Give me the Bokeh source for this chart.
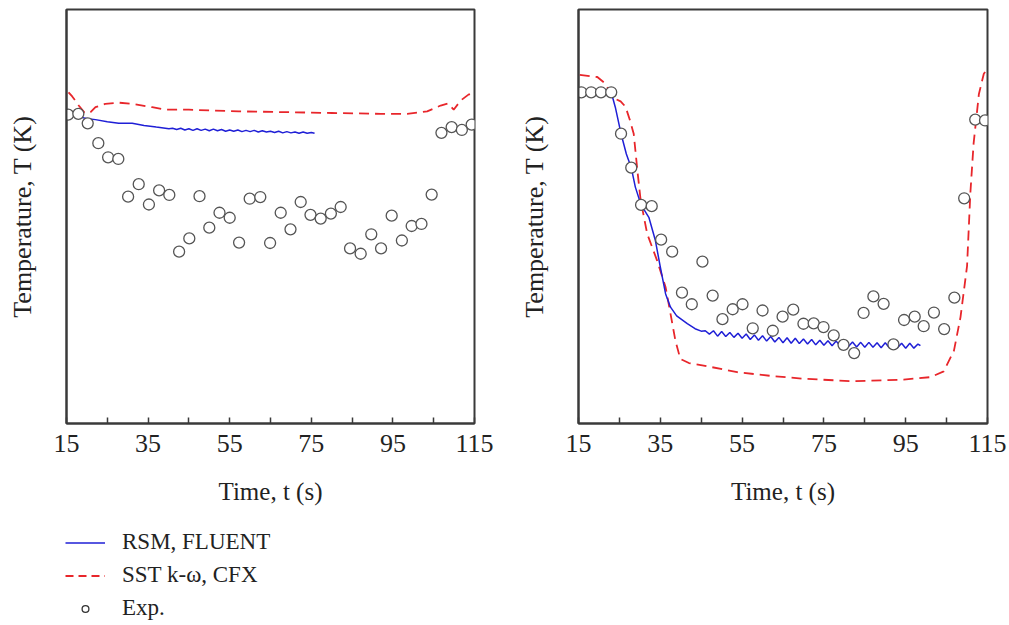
from bokeh.plotting import figure
from bokeh.models import Range1d, FixedTicker, Legend, LegendItem
from bokeh.layouts import row, column
from bokeh.embed import file_html
from bokeh.resources import INLINE

FONT = "Liberation Serif"
BLUE = "#1f1fd6"
RED = "#e8262b"
GRAY = "#555555"
FRAME = "#3a3a3a"

x_ticks = [15, 35, 55, 75, 95, 115]
x_minor = [25, 45, 65, 85, 105]

# ---------------- left panel ----------------
left_exp_t = [15.4, 17.9, 20.2, 22.8, 25.2, 27.7, 30.1, 32.7, 35.2, 37.7, 40.2,
              42.6, 45.1, 47.6, 50.0, 52.5, 55.0, 57.3, 59.9, 62.5, 64.9, 67.5,
              69.9, 72.4, 74.8, 77.3, 79.8, 82.2, 84.5, 87.1, 89.7, 92.1, 94.7,
              97.2, 99.6, 102.0, 104.5, 106.9, 109.4, 111.9, 114.3]
left_exp_v = [74.6, 74.8, 72.5, 67.7, 64.3, 63.9, 54.8, 57.8, 52.9, 56.3, 55.2,
              41.5, 44.7, 54.9, 47.3, 50.9, 49.7, 43.7, 54.3, 54.7, 43.6, 50.9,
              46.9, 53.5, 50.4, 49.5, 50.7, 52.3, 42.3, 41.0, 45.7, 42.3, 50.2,
              44.2, 47.7, 48.2, 55.3, 70.2, 71.6, 70.9, 72.2]

left_rsm_t = [15.5, 18.4, 20.2, 22.1, 25.0, 27.8, 31.1, 34.0, 37.0, 40.1,
              41, 42, 43, 44, 45, 46, 47, 48, 49, 50, 51, 52, 53, 54, 55, 56, 57, 58,
              59, 60, 61, 62, 63, 64, 65, 66, 67, 68, 69, 70, 71, 72, 73, 74, 75, 75.8]
left_rsm_v = [74.8, 74.0, 73.6, 73.4, 72.9, 72.5, 72.5, 72.0, 71.6, 71.2,
              71.3, 71.0, 71.3, 70.9, 71.2, 70.8, 71.2, 70.8, 71.1, 70.7, 71.1, 70.7,
              71.0, 70.6, 70.9, 70.6, 70.9, 70.5, 70.8, 70.5, 70.8, 70.4, 70.7, 70.4,
              70.6, 70.3, 70.6, 70.2, 70.5, 70.2, 70.4, 70.1, 70.4, 70.1, 70.3, 70.1]

left_sst_t = [15.5, 16.4, 17.3, 18.0, 19.3, 20.3, 20.9, 22.1, 24.5, 27.8, 31.9,
              36.0, 39.3, 45.0, 57.2, 69.1, 80.0, 92.0, 98.5, 103.4, 106.7, 108.5,
              109.9, 111.6, 113.6, 115.0]
left_sst_v = [80.0, 79.0, 77.8, 76.8, 75.2, 74.9, 75.2, 76.4, 77.2, 77.5, 77.1,
              76.4, 75.8, 75.8, 75.4, 75.2, 75.0, 74.8, 74.8, 75.4, 76.8, 77.3,
              75.8, 78.0, 79.5, 79.6]

# ---------------- right panel ----------------
right_exp_t = [15.7, 18.1, 20.5, 23.0, 25.4, 27.9, 30.3, 32.9, 35.2, 37.9, 40.3,
               42.7, 45.3, 47.8, 50.2, 52.7, 55.1, 57.6, 60.0, 62.5, 64.9, 67.5,
               70.0, 72.5, 74.9, 77.4, 79.8, 82.4, 84.7, 87.1, 89.6, 92.0, 94.6,
               97.2, 99.4, 101.9, 104.4, 106.9, 109.3, 112.0, 114.4]
right_exp_v = [80.0, 80.0, 80.0, 80.0, 70.0, 61.8, 52.8, 52.5, 44.4, 41.5, 31.6,
               28.8, 39.1, 30.9, 25.2, 27.6, 28.8, 23.0, 27.3, 22.4, 25.8, 27.5,
               24.1, 24.2, 23.3, 21.3, 19.0, 17.0, 26.7, 30.7, 28.9, 19.1, 25.0,
               25.8, 23.5, 26.8, 22.8, 30.4, 54.4, 73.4, 73.2]

right_rsm_t = [15.5, 23.0, 24.0, 25.4, 26.7, 27.9, 28.9, 30.3, 32.2, 33.8, 35.0,
               36.3, 37.5, 39.0, 41.6, 43.5, 45.0,
               46, 47, 48, 49, 50, 51, 52, 53, 54, 55, 56, 57, 58, 59, 60, 61, 62,
               63, 64, 65, 66, 67, 68, 69, 70, 71, 72, 73, 74, 75, 76, 77, 78, 79,
               80, 81, 82, 83, 84, 85, 86, 87, 88, 89, 90, 91, 92, 93, 94, 95, 96,
               97, 98, 98.6]
right_rsm_v = [80.0, 80.0, 76.4, 70.0, 65.1, 61.8, 57.1, 52.8, 49.8, 44.2, 37.8,
               31.3, 28.1, 26.0, 24.1, 22.9, 22.3,
               22.4, 21.6, 22.4, 21.1, 22.2, 21.0, 22.0, 20.8, 21.8, 20.6, 21.6,
               20.3, 21.4, 20.1, 21.2, 19.9, 21.0, 19.7, 20.8, 19.5, 20.7, 19.4,
               20.6, 19.3, 20.4, 19.2, 20.3, 19.0, 20.1, 18.9, 20.0, 18.8, 19.9,
               18.7, 19.8, 18.6, 19.7, 18.5, 19.6, 18.4, 19.6, 18.4, 19.5, 18.3,
               19.5, 18.3, 19.5, 18.3, 19.4, 18.2, 19.4, 18.2, 19.2, 18.8]

right_sst_t = [15.3, 19.6, 21.2, 22.5, 23.6, 25.3, 26.5, 27.5, 28.5, 29.4, 30.2,
               31.8, 34.2, 36.3, 37.5, 38.7, 39.9, 42.0, 45.6, 53.8, 62.0, 70.1,
               82.3, 94.5, 101.1, 104.3, 106.8, 108.4, 110.0, 110.8, 111.6, 112.9,
               114.1, 115.0]
right_sst_v = [84.2, 83.7, 82.4, 80.5, 78.6, 77.8, 76.5, 73.5, 70.0, 61.1, 53.9,
               45.8, 39.4, 32.9, 26.5, 20.0, 15.6, 14.6, 14.0, 12.4, 11.5, 10.8,
               10.2, 10.6, 11.2, 12.6, 17.6, 25.7, 38.0, 55.5, 67.6, 79.6, 84.5,
               85.7]

legend_labels = ["RSM, FLUENT", "SST k-ω, CFX", "Exp."]


def make_panel(width, border_left, border_right, exp_t, exp_v, rsm_t, rsm_v, sst_t, sst_v):
    p = figure(width=width, height=513, x_range=Range1d(15, 115), y_range=Range1d(0, 100),
               output_backend="svg", toolbar_location=None,
               min_border_left=border_left, min_border_right=border_right,
               min_border_top=9, min_border_bottom=90)
    p.grid.visible = False
    p.outline_line_color = FRAME
    p.outline_line_width = 2
    p.background_fill_color = "white"

    xa = p.xaxis[0]
    xa.ticker = FixedTicker(ticks=x_ticks, minor_ticks=x_minor)
    xa.major_tick_in = 6
    xa.major_tick_out = 0
    xa.minor_tick_in = 6
    xa.minor_tick_out = 0
    xa.major_tick_line_color = FRAME
    xa.minor_tick_line_color = FRAME
    xa.major_tick_line_width = 1.5
    xa.minor_tick_line_width = 1.5
    xa.axis_line_color = FRAME
    xa.axis_line_width = 2
    xa.major_label_text_font = FONT
    xa.major_label_text_font_size = "26px"
    xa.major_label_text_color = "#222222"
    xa.major_label_standoff = 11
    xa.axis_label = "Time, t (s)"
    xa.axis_label_text_font = FONT
    xa.axis_label_text_font_style = "normal"
    xa.axis_label_text_font_size = "25px"
    xa.axis_label_text_color = "#222222"
    xa.axis_label_standoff = 23

    ya = p.yaxis[0]
    ya.ticker = FixedTicker(ticks=[])
    ya.major_tick_in = 0
    ya.major_tick_out = 0
    ya.minor_tick_in = 0
    ya.minor_tick_out = 0
    ya.major_label_standoff = 0
    ya.axis_line_color = FRAME
    ya.axis_line_width = 2
    ya.axis_label = "Temperature, T (K)"
    ya.axis_label_text_font = FONT
    ya.axis_label_text_font_style = "normal"
    ya.axis_label_text_font_size = "26px"
    ya.axis_label_text_color = "#222222"
    ya.axis_label_standoff = 30

    p.line(sst_t, sst_v, line_color=RED, line_width=1.8, line_dash="10 6")
    p.line(rsm_t, rsm_v, line_color=BLUE, line_width=1.5)
    p.scatter(exp_t, exp_v, marker="circle", size=11, line_color=GRAY,
              line_width=1.3, fill_color="white")
    return p


p1 = make_panel(500, 66, 26, left_exp_t, left_exp_v, left_rsm_t, left_rsm_v,
                left_sst_t, left_sst_v)
p2 = make_panel(509, 78, 22, right_exp_t, right_exp_v, right_rsm_t, right_rsm_v,
                right_sst_t, right_sst_v)

# ---------------- legend (its own strip; glyphs lie outside the visible range) ----------------
pl = figure(width=500, height=112, x_range=Range1d(1000, 1001), y_range=Range1d(1000, 1001),
            output_backend="svg", toolbar_location=None,
            x_axis_location=None, y_axis_location=None, min_border=0)
pl.grid.visible = False
pl.outline_line_color = None
r_rsm = pl.line(left_rsm_t, left_rsm_v, line_color=BLUE, line_width=1.5)
r_sst = pl.line(left_sst_t, left_sst_v, line_color=RED, line_width=1.8, line_dash="8 5")
r_exp = pl.scatter(left_exp_t, left_exp_v, marker="circle", size=7, line_color="#333333",
                   line_width=1.3, fill_color="white")
legend = Legend(items=[LegendItem(label=legend_labels[0], renderers=[r_rsm]),
                       LegendItem(label=legend_labels[1], renderers=[r_sst]),
                       LegendItem(label=legend_labels[2], renderers=[r_exp])],
                location=(65, 4), orientation="vertical",
                label_text_font=FONT, label_text_font_size="23px",
                label_text_color="#222222",
                glyph_width=40, glyph_height=17, label_height=26, spacing=7,
                padding=0, margin=0, label_standoff=17,
                border_line_color=None, background_fill_alpha=0)
pl.add_layout(legend)

layout = column(row(p1, p2, spacing=0), pl, spacing=0)
open("out.html", "w").write(file_html(layout, INLINE))
